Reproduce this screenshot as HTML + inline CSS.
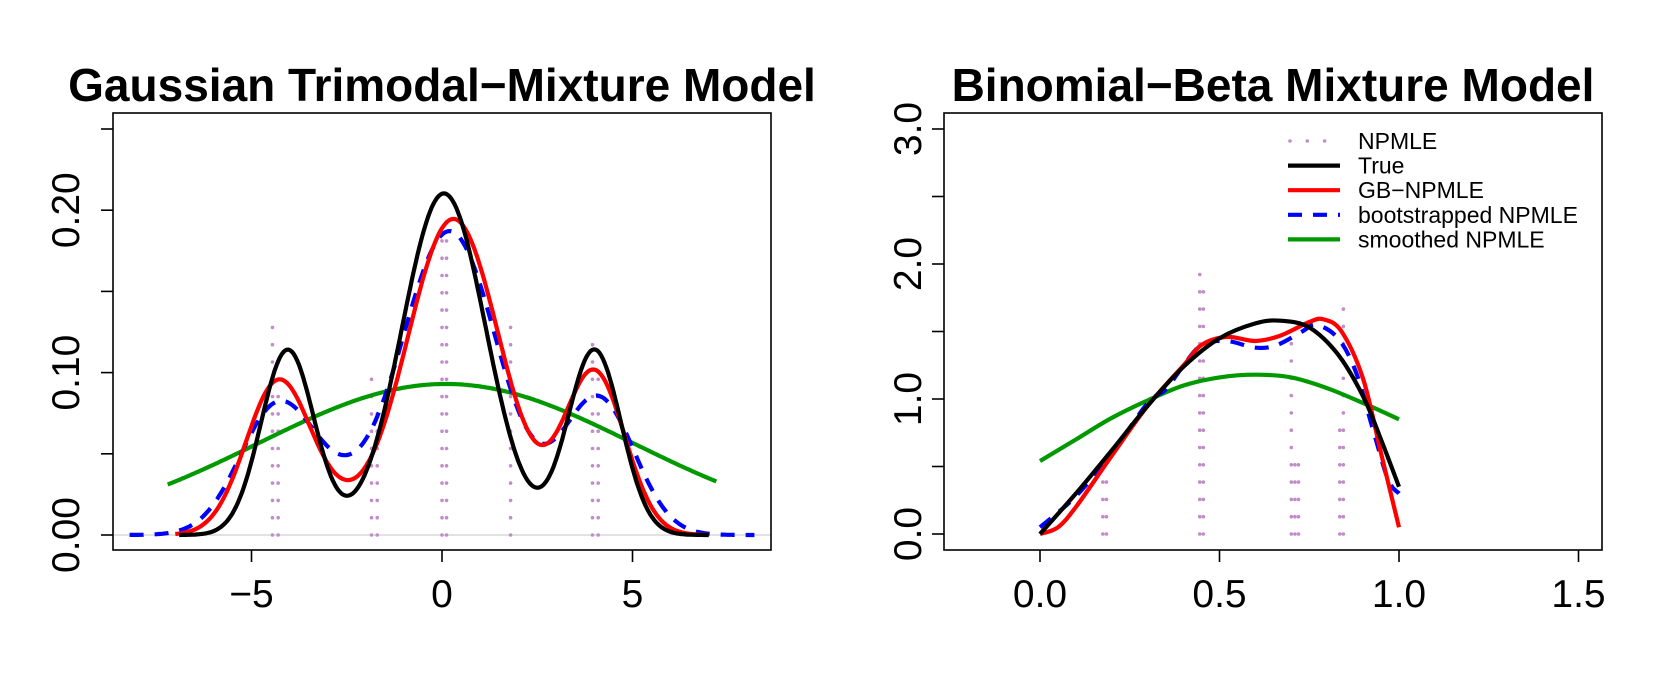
<!DOCTYPE html>
<html><head><meta charset="utf-8"><style>
html,body{margin:0;padding:0;background:#fff;}
svg{display:block;font-family:"Liberation Sans",sans-serif;}
</style></head><body>
<svg id="s" width="1661" height="692" viewBox="0 0 1661 692" xmlns="http://www.w3.org/2000/svg">
<rect width="1661" height="692" fill="#fff"/>
<text x="442" y="101" text-anchor="middle" font-size="46" font-weight="bold">Gaussian Trimodal−Mixture Model</text>
<text x="1273" y="101" text-anchor="middle" font-size="46" font-weight="bold">Binomial−Beta Mixture Model</text>
<g id="L"></g><g id="R"></g>
<rect x="113" y="113" width="658" height="437" fill="none" stroke="#000" stroke-width="1.6"/>
<rect x="944" y="113" width="658" height="437" fill="none" stroke="#000" stroke-width="1.6"/>
</svg>
<script>
var NS="http://www.w3.org/2000/svg";
function el(p,t,a,txt){var e=document.createElementNS(NS,t);for(var k in a)e.setAttribute(k,a[k]);if(txt!=null)e.textContent=txt;p.appendChild(e);return e;}
var L=document.getElementById('L'),R=document.getElementById('R');
function lx(v){return 442+v*38.1;} function ly(v){return 535-v*1624;}
function rx(v){return 1040+v*359;} function ry(v){return 534-v*135;}
function pdf(x,m,s){return Math.exp(-(x-m)*(x-m)/(2*s*s))/(s*2.5066);}
function mix(c){return function(x){var t=0;c.forEach(function(q){t+=q[0]*pdf(x,q[1],q[2]);});return t;};}
function fpath(f,a,b){var d="";for(var i=0;i<=300;i++){var x=a+(b-a)*i/300;d+=(i?"L":"M")+lx(x).toFixed(1)+" "+ly(f(x)).toFixed(1);}return d;}
el(L,'line',{x1:113,y1:535,x2:771,y2:535,stroke:'#d0d0d0','stroke-width':1.2});
[0,0.05,0.1,0.15,0.2,0.25].forEach(function(v){el(L,'line',{x1:101,x2:113,y1:ly(v),y2:ly(v),stroke:'#000','stroke-width':1.6});});
[[0,"0.00"],[0.1,"0.10"],[0.2,"0.20"]].forEach(function(p){el(L,'text',{x:0,y:0,'font-size':39,'text-anchor':'middle',transform:'translate(79,'+ly(p[0])+') rotate(-90)'},p[1]);});
[[-5,"−5"],[0,"0"],[5,"5"]].forEach(function(p){el(L,'line',{x1:lx(p[0]),x2:lx(p[0]),y1:550,y2:562,stroke:'#000','stroke-width':1.6});el(L,'text',{x:lx(p[0]),y:607,'font-size':39,'text-anchor':'middle'},p[1]);});
function dots(g,x,ybase,ytop){el(g,'line',{x1:x,x2:x,y1:ybase,y2:ytop-1,stroke:'#c28ccb','stroke-width':3.6,'stroke-linecap':'round','stroke-dasharray':'0 17.3'});}
[[-4.45,0.128],[-4.3,0.098],[-1.85,0.097],[-1.7,0.081],[0.0,0.19],[0.12,0.19],[1.8,0.128],[3.95,0.118],[4.1,0.1]].forEach(function(p){dots(L,lx(p[0]),535,ly(p[1]));});
el(L,'path',{d:fpath(function(x){return 0.093*Math.exp(-(x-0.1)*(x-0.1)/(2*4.93*4.93));},-7.2,7.2),fill:'none',stroke:'#009900','stroke-width':4.2});
el(L,'path',{d:fpath(mix([[0.2,-4.3,1.0],[0.6,0.2,1.28],[0.2,4.1,0.95],[0.03,-2.6,0.9]]),-8.2,8.2),fill:'none',stroke:'#0000ff','stroke-width':4.2,'stroke-dasharray':'14 11'});
el(L,'path',{d:fpath(mix([[0.2,-4.3,0.85],[0.6,0.3,1.23],[0.2,4.0,0.8],[0.02,-2.8,0.8]]),-7,7),fill:'none',stroke:'#ff0000','stroke-width':4.2});
el(L,'path',{d:fpath(mix([[0.2,-4.05,0.7],[0.58,0.05,1.1],[0.2,4.0,0.7]]),-6.9,7),fill:'none',stroke:'#000','stroke-width':4.2});
[0,0.5,1,1.5,2,2.5,3].forEach(function(v){el(R,'line',{x1:932,x2:944,y1:ry(v),y2:ry(v),stroke:'#000','stroke-width':1.6});});
[[0,"0.0"],[1,"1.0"],[2,"2.0"],[3,"3.0"]].forEach(function(p){el(R,'text',{x:0,y:0,'font-size':39,'text-anchor':'middle',transform:'translate(921,'+ry(p[0])+') rotate(-90)'},p[1]);});
[[0,"0.0"],[0.5,"0.5"],[1,"1.0"],[1.5,"1.5"]].forEach(function(p){el(R,'line',{x1:rx(p[0]),x2:rx(p[0]),y1:550,y2:562,stroke:'#000','stroke-width':1.6});el(R,'text',{x:rx(p[0]),y:607,'font-size':39,'text-anchor':'middle'},p[1]);});
[[0.175,0.38],[0.185,0.38],[0.445,1.92],[0.455,1.8],[0.7,1.53],[0.71,0.55],[0.72,0.55],[0.845,1.66],[0.835,0.8]].forEach(function(p){dots(R,rx(p[0]),534,ry(p[1]));});
function spath(pts){var P=pts.map(function(p){return [rx(p[0]),ry(p[1])];});var d="M"+P[0][0]+" "+P[0][1];for(var i=0;i<P.length-1;i++){var p0=P[Math.max(i-1,0)],p1=P[i],p2=P[i+1],p3=P[Math.min(i+2,P.length-1)];d+="C"+(p1[0]+(p2[0]-p0[0])/6).toFixed(1)+" "+(p1[1]+(p2[1]-p0[1])/6).toFixed(1)+" "+(p2[0]-(p3[0]-p1[0])/6).toFixed(1)+" "+(p2[1]-(p3[1]-p1[1])/6).toFixed(1)+" "+p2[0].toFixed(1)+" "+p2[1].toFixed(1);}return d;}
el(R,'path',{d:spath([[0,0.54],[0.1,0.7],[0.2,0.86],[0.3,0.99],[0.4,1.1],[0.5,1.16],[0.6,1.18],[0.7,1.16],[0.8,1.08],[0.9,0.97],[1,0.85]]),fill:'none',stroke:'#009900','stroke-width':4.2});
el(R,'path',{d:spath([[0,0.05],[0.1,0.28],[0.2,0.6],[0.3,0.97],[0.35,1.07],[0.4,1.25],[0.45,1.4],[0.52,1.43],[0.6,1.38],[0.66,1.4],[0.73,1.5],[0.77,1.55],[0.83,1.45],[0.88,1.2],[0.93,0.75],[0.97,0.4],[1,0.3]]),fill:'none',stroke:'#0000ff','stroke-width':4.2,'stroke-dasharray':'14 11'});
el(R,'path',{d:spath([[0,0],[0.05,0.05],[0.1,0.2],[0.2,0.58],[0.3,0.95],[0.4,1.25],[0.45,1.4],[0.52,1.46],[0.6,1.43],[0.67,1.47],[0.75,1.57],[0.79,1.59],[0.84,1.5],[0.9,1.15],[0.95,0.6],[1,0.05]]),fill:'none',stroke:'#ff0000','stroke-width':4.2});
el(R,'path',{d:spath([[0,0],[0.1,0.3],[0.2,0.62],[0.3,0.95],[0.4,1.24],[0.5,1.45],[0.6,1.56],[0.67,1.58],[0.75,1.53],[0.83,1.33],[0.9,1.02],[0.95,0.7],[1,0.35]]),fill:'none',stroke:'#000','stroke-width':4.2});
var rows=[["NPMLE",'#c28ccb','dot'],["True",'#000',''],["GB−NPMLE",'#ff0000',''],["bootstrapped NPMLE",'#0000ff','dash'],["smoothed NPMLE",'#009900','']];
rows.forEach(function(r,i){var y=141+i*24.6;var a={x1:1288,x2:1340,y1:y,y2:y,stroke:r[1],'stroke-width':4.2};
if(r[2]=='dot'){a['stroke-dasharray']='0 17.3';a['stroke-linecap']='round';a['stroke-width']=3.6;a.x1=1290;}
if(r[2]=='dash'){a['stroke-dasharray']='14 11';}
el(R,'line',a);el(R,'text',{x:1358,y:y+8,'font-size':23,textLength:null},r[0]);});
</script>
</body></html>
